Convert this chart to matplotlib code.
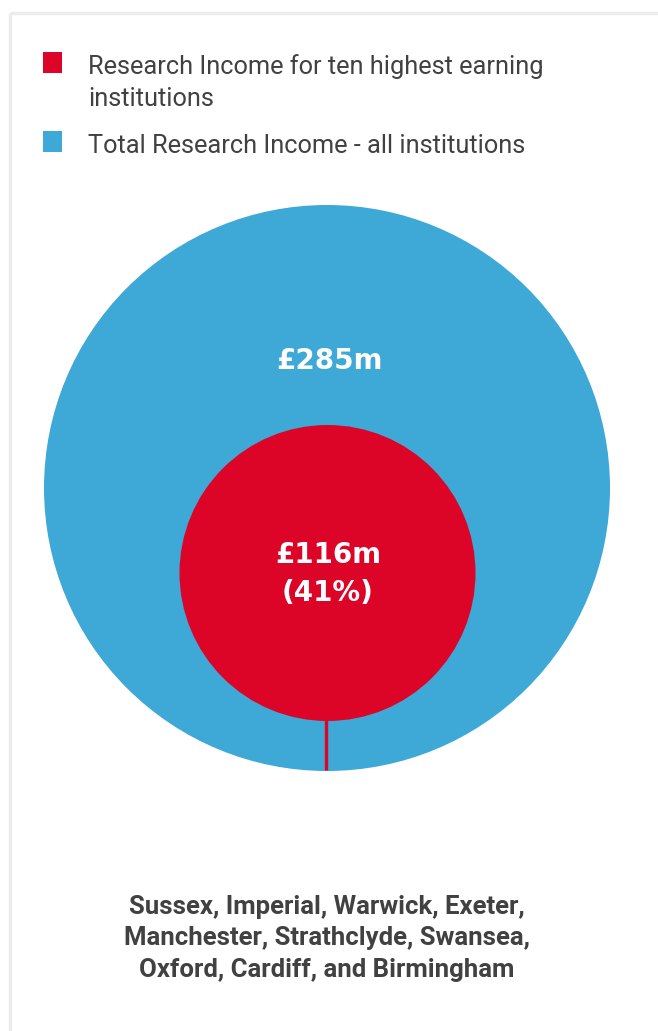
import matplotlib
matplotlib.use("Agg")
import matplotlib.pyplot as plt
from matplotlib.patches import Circle, Rectangle

# ---- data ----
series_names = ["Research Income for ten highest earning\ninstitutions",
                "Total Research Income - all institutions"]
total_income = 285   # £m, all institutions
top10_income = 116   # £m, ten highest earning
top10_share = 41     # percent
institutions = ["Sussex", "Imperial", "Warwick", "Exeter", "Manchester",
                "Strathclyde", "Swansea", "Oxford", "Cardiff", "Birmingham"]

# ---- style ----
RED = "#dc0528"
BLUE = "#3ea8d6"
TEXT = "#414141"
FAM = ["Roboto", "DejaVu Sans"]

W, H = 658, 1031
fig = plt.figure(figsize=(W / 100, H / 100), dpi=100)
ax = fig.add_axes([0, 0, 1, 1])
ax.set_xlim(0, W)
ax.set_ylim(H, 0)
ax.axis("off")

# frame
ax.add_patch(Rectangle((9.5, 12.5), W, H, fill=False, edgecolor="#ececec", lw=2.4))

# legend
ax.add_patch(Rectangle((43, 52), 19, 21, color=RED, lw=0))
ax.add_patch(Rectangle((43, 131), 19, 21, color=BLUE, lw=0))
legend_lines = [(74, series_names[0].split("\n")[0]),
                (106, series_names[0].split("\n")[1]),
                (153, series_names[1])]
for yb, s in legend_lines:
    ax.text(88, yb, s, fontsize=18.3, family=FAM, color=TEXT,
            va="baseline", ha="left")

# circles
cx = 327
R_big, cy_big = 283, 488
R_small, cy_small = 148, 573
ax.add_patch(Circle((cx, cy_big), R_big, color=BLUE, lw=0))
ax.add_patch(Circle((cx + 0.5, cy_small), R_small, color=RED, lw=0))
ax.plot([326, 326], [cy_small + R_small - 1, cy_big + R_big - 1], color=RED, lw=2.4,
        solid_capstyle="butt")

lab_kw = dict(fontsize=20, family=["DejaVu Sans"], color="white",
              ha="center", va="baseline", fontweight="bold")
ax.text(cx + 2, 369, f"£{total_income}m", **lab_kw)
ax.text(cx + 1, 563, f"£{top10_income}m", **lab_kw)
ax.text(cx + 1, 601, f"({top10_share}%)", **lab_kw)

# institutions text
lines = [", ".join(institutions[0:4]) + ",",
         ", ".join(institutions[4:7]) + ",",
         ", ".join(institutions[7:9]) + ", and " + institutions[9]]
for i, s in enumerate(lines):
    ax.text(cx, 914 + 31.5 * i, s, fontsize=18.5, family=FAM, color=TEXT,
            ha="center", va="baseline", fontweight="bold")

fig.savefig("out.png", dpi=100)
